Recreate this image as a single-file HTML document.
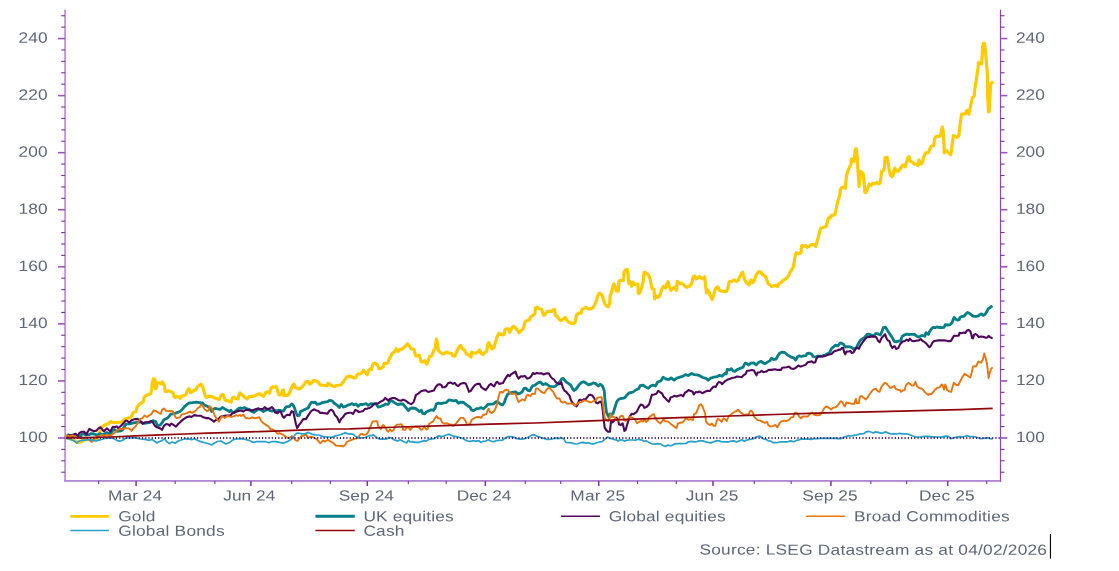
<!DOCTYPE html>
<html lang="en">
<head>
<meta charset="utf-8">
<title>Asset class performance</title>
<style>
html,body{margin:0;padding:0;background:#fff;}
body{width:1119px;height:571px;overflow:hidden;}
svg{display:block;}
text{font-family:"Liberation Sans",sans-serif;font-size:14.6px;fill:#5e6778;}
text.n{font-size:15px;}
</style>
</head>
<body>
<svg width="1119" height="571" viewBox="0 0 1119 571">
<rect width="1119" height="571" fill="#fff"/>
<g fill="none" stroke-linejoin="round" stroke-linecap="butt">
<polyline stroke="#ffcb00" stroke-width="3.2" points="65.2,437.9 66.0,438.0 70.0,438.6 73.0,439.6 75.5,441.3 77.5,442.3 80.0,442.2 82.5,441.2 84.5,439.8 88.0,439.2 92.0,439.0 96.0,438.6 98.0,437.7 99.3,432.7 100.2,430.9 101.1,427.3 104.7,425.1 108.3,423.8 110.9,421.5 112.7,422.4 117.2,422.4 121.7,422.0 124.3,419.3 127.0,418.4 130.6,417.5 133.3,412.6 136.0,411.7 137.0,407.4 138.8,404.7 141.4,402.9 143.2,402.0 144.1,397.5 145.9,395.7 148.6,394.4 150.8,393.5 151.7,389.5 152.4,382.3 153.5,378.8 154.9,379.2 155.3,385.9 155.7,389.0 156.6,386.8 157.4,382.8 159.3,382.8 161.1,383.7 162.4,381.9 163.8,384.1 164.7,387.7 165.1,391.3 166.5,391.5 168.3,390.8 171.4,391.7 173.2,393.5 174.1,396.6 175.4,397.5 176.7,396.2 179.0,397.1 180.3,398.4 181.2,396.2 183.4,395.9 185.7,394.9 187.0,391.7 188.8,388.6 190.2,390.8 190.6,392.6 192.8,391.3 194.2,389.9 196.0,389.9 197.3,386.8 199.1,385.5 201.1,384.1 202.7,386.8 204.0,391.3 205.3,395.7 206.7,397.4 208.9,396.2 211.2,396.6 213.8,397.5 216.1,398.6 218.3,399.3 219.5,399.4 220.8,395.4 223.0,394.5 224.4,398.1 225.7,400.7 228.0,400.6 229.7,401.6 231.1,402.1 232.4,398.1 233.8,397.2 236.0,398.5 238.2,398.8 239.1,394.5 240.0,392.9 241.8,394.5 244.5,397.2 247.2,399.0 249.4,396.5 251.6,396.3 254.3,396.1 256.6,394.9 259.2,393.6 261.5,394.9 263.7,396.3 265.5,392.7 267.3,391.8 269.5,393.2 270.9,388.2 272.6,386.9 274.4,387.3 276.2,386.4 277.6,390.5 278.9,394.9 281.1,394.9 282.5,390.5 283.4,390.0 284.3,395.8 286.0,395.4 288.7,394.9 291.0,389.1 292.7,385.1 294.1,384.2 295.4,387.8 297.7,388.4 299.5,389.1 302.1,386.9 304.4,384.2 306.2,381.5 308.4,381.5 309.7,384.2 312.0,382.4 313.3,380.6 316.3,381.0 318.5,382.4 319.8,384.6 321.6,385.2 324.3,385.5 327.0,385.9 327.9,383.3 329.2,383.7 331.4,385.5 334.1,386.4 336.8,385.5 339.5,385.0 341.3,384.6 343.5,381.5 345.3,378.8 347.1,376.8 349.3,376.1 351.6,376.8 353.8,377.9 355.6,377.9 357.4,374.3 359.6,373.9 361.4,373.0 363.6,370.3 365.4,372.5 367.2,374.8 368.5,370.7 369.9,369.0 371.7,369.4 372.6,364.5 374.3,363.2 376.1,363.6 377.9,365.8 378.8,368.8 381.0,368.5 383.3,366.7 384.2,363.4 386.0,363.4 388.2,362.7 389.1,359.1 390.9,356.0 392.2,353.3 394.5,352.0 396.2,348.6 398.0,351.5 399.8,349.7 402.5,348.9 404.7,346.6 407.5,343.8 409.5,346.3 411.3,348.8 413.9,349.4 415.7,355.9 417.5,355.7 419.3,355.2 421.1,361.9 422.9,361.9 424.7,360.6 426.9,364.2 427.8,361.5 429.6,356.6 431.8,355.7 433.6,350.7 434.9,349.4 435.8,343.6 436.5,339.1 437.6,344.5 438.5,350.7 440.7,352.5 442.5,353.9 444.3,353.6 446.6,352.1 448.8,353.0 451.5,353.4 452.8,355.9 455.0,356.1 456.4,352.5 458.2,348.5 460.4,345.4 462.2,348.5 464.4,349.9 466.7,354.3 468.9,354.8 471.0,357.0 471.8,352.1 473.8,353.0 476.5,353.0 478.3,351.6 479.6,350.0 481.0,353.4 483.2,354.5 485.0,352.1 486.8,351.2 487.7,344.5 488.6,342.7 490.3,344.9 491.7,348.8 493.9,347.6 495.3,342.7 497.0,337.2 498.8,333.3 500.0,333.7 502.7,335.0 504.0,334.6 504.9,329.7 506.7,328.8 508.5,328.8 509.8,332.4 511.2,329.2 513.0,326.3 515.2,327.4 517.0,329.7 518.8,332.8 520.6,331.0 522.8,329.2 524.1,325.7 525.0,322.1 526.8,320.7 529.5,319.9 530.4,317.0 532.6,315.8 534.9,314.0 535.6,307.8 537.1,307.2 539.3,308.7 541.6,309.3 542.9,313.6 543.8,315.4 545.6,313.8 546.9,311.8 549.2,311.1 551.8,311.4 553.2,310.0 554.5,309.3 555.4,315.4 557.2,316.3 559.0,319.0 560.8,320.7 563.0,319.4 565.2,317.4 566.6,319.9 568.8,322.1 571.5,323.4 573.7,323.6 575.1,322.1 576.4,315.4 578.2,313.4 580.9,313.2 582.2,309.1 584.5,308.1 585.8,307.2 588.0,308.7 590.3,309.1 592.9,307.8 594.7,304.7 596.5,300.2 597.9,295.3 599.2,293.5 599.9,293.2 602.1,295.2 603.5,299.7 604.8,303.7 606.6,306.0 608.4,306.8 609.7,303.3 610.2,295.2 611.5,292.5 612.9,286.7 613.8,283.8 615.1,286.3 616.0,290.7 618.2,291.2 618.7,285.4 619.1,280.9 621.4,280.5 623.6,280.5 624.0,272.0 625.8,269.7 627.2,269.3 628.1,275.6 628.8,283.6 630.3,281.8 631.6,286.3 633.0,282.3 634.3,284.5 636.1,284.0 637.9,284.0 638.3,293.4 639.7,293.0 641.5,288.1 643.3,280.9 644.0,272.4 645.9,272.9 648.2,274.7 650.0,278.2 651.3,285.4 652.2,288.5 654.0,289.4 654.7,298.8 656.7,296.1 658.4,297.4 660.2,294.3 662.0,289.0 663.4,286.3 665.6,288.1 666.9,283.6 668.1,281.8 669.2,286.3 671.0,290.3 672.7,288.5 674.5,287.2 676.5,290.3 677.2,281.4 679.5,283.6 682.1,283.2 684.4,285.8 687.0,287.4 689.7,285.8 691.8,283.5 693.1,276.8 694.5,275.9 695.8,279.0 698.0,277.7 699.4,276.4 701.2,278.2 703.0,278.6 704.7,276.8 705.6,285.7 706.5,292.9 707.9,290.2 709.2,292.4 710.6,296.5 712.2,299.6 713.7,294.7 715.0,289.8 716.8,287.1 718.2,287.1 719.0,290.2 720.8,290.7 723.1,291.6 726.6,291.3 728.0,287.5 729.3,281.7 731.6,281.3 734.2,279.9 736.5,281.5 738.3,279.9 740.0,276.4 741.8,272.8 742.7,272.3 743.6,275.9 745.0,280.4 746.7,283.1 749.0,284.9 750.3,281.3 751.2,279.9 752.6,282.6 754.3,280.8 755.7,275.9 757.0,273.7 759.3,271.4 760.6,271.9 762.8,275.0 765.5,276.4 766.9,279.9 768.2,283.8 770.0,284.9 771.8,286.6 774.0,285.7 775.8,285.3 777.6,286.6 778.9,283.5 781.2,282.6 782.9,280.4 785.6,279.0 787.9,276.8 788.9,275.0 790.3,271.5 793.0,267.9 794.3,261.6 795.4,254.5 796.3,252.7 798.3,253.8 801.0,252.7 801.4,246.4 802.3,245.4 804.1,246.3 805.9,245.6 807.3,247.3 809.0,246.4 811.3,244.7 814.0,244.7 815.7,246.4 817.1,241.1 818.9,234.8 820.2,229.5 820.9,228.1 822.9,227.7 825.1,226.8 826.1,226.5 827.4,222.0 828.3,218.0 830.1,218.0 831.4,215.3 833.2,215.3 835.0,214.4 835.9,210.4 837.3,203.2 838.6,198.8 839.9,195.2 840.4,189.4 842.1,187.4 843.9,187.2 845.4,188.3 845.9,182.0 846.5,175.7 847.9,170.8 849.7,166.8 851.0,164.1 851.4,159.2 853.2,159.2 854.1,161.4 854.6,154.3 855.5,148.9 856.4,148.9 857.3,157.9 857.7,166.8 858.4,175.7 859.0,186.5 859.9,179.3 860.4,171.3 862.2,172.6 863.2,174.0 864.0,182.0 864.9,192.3 865.9,192.7 868.0,187.4 869.3,184.2 871.1,185.6 872.9,183.3 874.7,183.8 876.5,182.4 878.7,183.8 880.0,183.3 880.9,177.5 881.7,171.3 883.6,170.4 884.5,166.8 885.0,157.9 887.2,157.4 888.1,162.3 889.0,168.6 890.3,174.9 891.7,176.6 893.0,175.7 893.9,170.4 894.8,168.2 896.1,170.8 898.4,171.3 900.2,168.6 901.9,165.9 903.3,165.0 905.1,166.8 906.4,162.3 907.7,158.3 909.1,156.5 910.0,161.0 912.2,161.9 914.0,164.1 916.2,164.1 918.0,165.5 918.9,160.1 920.7,164.1 922.5,162.3 923.4,157.9 925.7,152.9 928.4,152.7 929.7,149.3 931.1,146.2 933.8,145.7 934.5,138.6 936.4,136.4 938.7,136.4 940.5,135.9 941.4,130.6 942.3,127.0 943.2,131.4 943.8,141.3 944.3,152.9 945.8,150.2 948.1,152.4 950.7,154.7 951.6,149.3 952.4,142.2 953.6,135.5 955.2,136.4 957.0,137.3 958.8,135.9 959.7,127.9 960.6,120.7 961.5,114.5 962.0,113.8 963.8,114.2 965.6,113.8 966.5,110.7 968.3,110.7 969.0,114.2 970.0,108.4 971.4,102.2 972.3,97.7 974.1,96.4 975.0,87.9 976.3,79.8 977.2,73.8 978.1,67.5 978.5,62.6 979.9,63.5 981.7,63.9 982.1,56.8 982.6,47.8 983.3,43.4 984.3,43.4 985.1,47.8 986.0,56.8 986.6,65.7 987.5,74.6 987.7,96.8 988.2,105.7 988.6,112.0 989.3,111.1 989.7,101.3 990.2,92.3 990.6,83.4 992.4,82.5 993.1,81.6"/>
<polyline stroke="#037f87" stroke-width="2.8" points="65.4,437.6 68.0,434.9 70.7,435.8 74.3,436.3 77.9,437.4 80.6,436.3 81.9,434.0 84.1,434.0 85.9,434.9 89.5,434.5 91.3,433.6 94.0,434.0 96.6,434.9 98.4,434.5 100.2,433.6 102.0,434.9 104.7,434.0 106.5,432.7 109.2,433.6 110.9,433.2 112.7,430.5 114.5,429.6 117.2,431.4 120.8,430.9 122.6,430.0 124.3,426.4 126.1,424.2 129.7,423.8 133.3,422.9 136.9,422.4 140.4,422.0 144.0,423.3 147.6,422.9 150.3,422.4 152.9,420.6 155.6,421.5 157.4,425.1 158.1,425.8 160.4,424.9 162.1,422.7 163.9,419.6 166.2,418.7 168.4,417.3 170.6,414.2 172.9,413.8 176.4,412.9 180.0,411.5 182.7,408.9 184.5,406.6 187.2,404.4 189.0,403.0 192.5,402.6 196.1,402.1 199.7,402.6 202.4,403.0 205.0,405.3 207.7,406.6 210.4,408.4 211.7,411.5 213.1,409.7 214.9,408.4 217.6,408.9 220.2,409.3 222.5,407.5 224.7,408.9 227.4,410.2 229.2,411.5 231.0,410.2 231.9,412.0 234.1,412.4 236.3,410.6 238.6,408.4 240.8,408.0 242.6,408.4 244.4,407.5 247.0,408.9 249.7,409.7 251.8,411.5 254.0,412.4 256.3,410.6 258.5,408.9 260.7,409.7 263.4,411.5 265.6,410.2 267.9,408.9 270.1,410.6 272.3,411.1 274.6,410.2 276.8,411.1 278.6,410.2 280.8,410.6 283.5,411.1 285.3,408.0 286.6,406.6 289.3,406.6 291.6,403.9 293.3,405.3 294.7,408.4 296.0,412.9 297.4,415.6 299.2,415.6 300.5,411.5 302.7,410.6 305.4,409.3 308.1,408.0 309.9,404.4 311.7,402.1 313.9,402.6 315.2,402.1 317.0,404.4 319.7,403.9 322.4,402.6 325.1,402.1 327.7,401.7 329.5,400.4 332.2,400.8 334.0,403.0 336.7,404.8 339.4,407.5 341.2,404.4 343.4,407.1 345.0,406.7 347.2,405.4 349.9,404.5 352.1,403.6 353.9,404.9 356.2,404.0 358.0,406.3 360.2,404.5 362.9,404.5 366.0,403.6 368.2,405.4 370.9,403.6 373.6,404.0 375.8,403.6 378.1,407.1 380.7,406.3 383.4,405.4 385.7,404.0 387.9,404.5 389.7,401.8 391.0,400.4 393.3,401.8 395.9,403.6 397.7,404.5 400.4,404.0 403.1,404.0 404.9,406.3 406.7,408.5 408.4,410.7 410.2,408.5 412.9,408.0 415.6,408.5 417.4,409.8 419.2,411.6 421.4,410.3 422.7,413.4 424.5,413.9 426.3,412.1 429.0,410.7 431.2,409.8 433.5,410.3 435.3,407.6 436.2,404.0 438.4,403.1 441.5,403.6 442.7,403.2 446.3,402.5 448.9,399.9 451.2,400.3 453.9,400.9 456.1,400.3 458.3,403.2 461.0,402.1 463.7,402.5 465.9,404.3 468.2,406.3 469.9,407.0 471.7,410.1 473.5,410.6 476.6,408.6 479.3,408.3 481.1,407.7 483.3,408.8 485.6,407.0 487.8,404.3 490.9,404.1 493.6,403.9 496.3,401.6 498.5,402.5 500.8,404.3 502.6,404.8 504.3,402.5 505.7,398.5 507.5,394.5 509.7,392.9 512.4,392.3 515.5,391.8 517.7,393.8 520.0,393.4 522.2,391.8 524.0,388.4 525.8,388.1 528.0,390.5 529.8,390.9 531.6,387.3 532.9,385.7 534.7,385.4 536.3,384.2 538.1,382.9 540.4,382.0 543.0,384.7 545.7,383.6 548.0,385.1 550.2,386.4 552.9,386.6 555.1,386.4 557.8,384.2 560.0,381.5 561.8,378.9 563.2,378.4 564.9,380.6 566.7,382.4 569.0,383.8 570.7,385.1 572.5,388.7 573.9,390.5 576.1,389.1 577.9,386.4 579.7,384.2 581.5,382.4 583.7,381.8 586.4,383.3 588.6,384.8 590.9,384.2 593.1,382.9 595.8,383.6 598.4,386.0 600.2,384.2 602.5,386.0 604.3,390.9 604.7,397.2 605.6,405.2 606.5,412.4 607.8,415.0 609.2,417.7 610.1,413.9 611.9,414.6 613.2,413.3 615.0,407.0 616.8,401.6 618.6,399.4 620.8,398.5 623.5,398.2 625.3,397.2 627.0,394.9 629.3,392.7 630.0,392.9 633.1,392.0 635.8,390.0 638.5,388.7 640.3,385.6 643.0,385.1 645.6,386.9 648.3,388.4 650.6,386.0 652.8,385.1 655.5,386.0 657.7,382.0 660.8,380.9 663.1,377.3 665.7,378.9 668.4,379.7 671.1,378.0 674.2,380.2 676.9,378.0 680.0,377.1 683.2,376.2 685.4,374.7 688.1,375.5 691.7,373.5 694.3,374.7 697.0,374.8 699.7,375.7 702.8,377.5 706.0,378.4 708.2,380.2 710.9,378.0 714.0,377.1 717.1,376.6 719.4,375.3 722.0,376.2 724.3,373.9 725.0,373.5 726.3,374.0 727.2,369.5 729.5,369.9 731.3,368.6 733.0,370.8 734.8,371.3 737.5,369.5 740.2,368.4 742.9,367.3 745.1,363.2 746.9,363.7 748.7,365.0 750.9,363.1 753.6,362.8 756.3,364.8 758.5,362.3 761.2,361.4 763.4,363.1 765.2,363.7 767.9,361.9 770.1,360.6 771.5,358.3 773.7,359.5 775.9,359.2 778.2,355.2 780.0,353.0 782.2,352.1 784.4,352.3 786.7,354.3 789.3,356.1 792.0,357.4 793.8,357.9 795.6,360.1 797.8,356.5 799.2,355.9 801.4,356.5 803.6,355.9 805.9,355.6 807.2,353.4 809.5,353.2 811.7,354.3 813.0,356.5 815.3,357.0 817.9,356.1 820.0,356.1 822.7,355.9 825.4,354.8 828.0,353.4 829.8,352.5 831.2,349.0 833.0,347.2 835.2,345.2 837.9,345.8 839.7,343.6 841.0,342.9 843.2,344.0 845.5,347.0 847.7,346.7 850.4,347.0 852.6,348.1 854.0,349.4 856.6,347.2 858.4,343.6 860.2,340.5 862.4,338.9 864.7,337.3 866.9,334.5 869.2,334.2 871.4,335.1 873.6,336.0 875.9,333.3 878.1,333.9 880.3,335.1 882.1,331.1 883.4,327.5 885.2,327.1 886.6,328.9 888.4,332.0 890.6,335.1 892.4,337.8 894.2,341.4 896.0,341.8 898.6,341.1 900.4,340.9 902.2,336.4 904.0,335.1 906.7,334.2 909.4,334.5 910.0,334.4 912.2,334.4 914.5,334.4 916.7,336.2 918.9,337.1 921.2,335.7 923.4,335.6 924.7,336.2 926.1,332.6 928.3,334.4 929.7,331.3 931.4,329.0 933.2,327.3 935.5,327.7 936.8,326.8 939.0,327.5 941.7,327.7 944.0,327.3 945.3,324.6 947.5,325.0 950.2,324.6 952.0,322.8 953.3,319.2 954.2,317.4 955.6,319.2 957.4,320.1 959.2,319.7 960.0,317.4 961.8,316.5 964.1,316.1 965.9,313.9 967.6,312.5 969.4,313.2 971.7,315.2 973.4,316.3 976.1,316.3 978.4,315.9 980.2,314.3 981.5,313.9 983.3,315.4 985.1,314.3 986.9,311.6 988.2,308.9 990.0,307.6 991.3,306.7 992.4,305.8"/>
<polyline stroke="#50075b" stroke-width="2.1" points="65.4,437.9 68.0,435.8 70.7,435.4 73.4,434.5 75.6,433.8 77.9,436.3 79.2,433.2 81.4,431.8 84.1,431.8 86.4,434.5 87.7,431.8 89.5,428.9 91.3,430.0 93.5,431.2 96.6,430.6 98.4,428.4 100.2,427.3 102.0,429.1 103.8,431.4 105.6,429.6 106.9,428.4 108.7,430.0 110.5,431.4 112.7,426.9 114.5,427.2 116.7,426.4 118.1,428.2 120.8,426.0 123.4,423.3 125.7,420.6 127.5,421.1 129.3,422.4 131.5,420.2 134.2,419.3 137.3,418.9 139.1,419.7 141.3,422.0 142.7,423.8 144.9,422.4 148.5,422.0 151.2,421.1 152.9,422.4 154.7,425.6 157.0,427.3 160.4,428.5 162.1,429.9 163.9,425.8 166.2,424.0 168.4,424.5 169.7,425.8 171.1,423.6 172.9,424.5 176.0,426.7 178.2,424.0 180.9,421.4 183.6,419.1 186.3,417.3 189.0,416.4 191.6,416.9 194.3,415.1 197.0,415.6 200.6,415.7 203.3,417.3 205.9,418.1 208.6,418.1 211.3,419.6 214.0,421.6 215.8,420.0 218.4,419.1 220.2,416.9 222.9,416.0 226.5,415.6 230.1,415.6 232.7,413.3 235.4,412.0 238.6,411.1 240.8,410.6 243.5,411.5 246.2,409.7 248.8,410.2 250.0,410.4 252.7,410.2 255.4,409.3 258.0,408.4 260.7,409.3 263.0,408.9 264.7,407.1 267.0,409.1 269.2,408.9 271.9,407.1 273.2,408.4 275.0,412.4 277.7,413.3 278.6,411.5 280.8,411.8 282.6,416.4 284.0,417.8 285.7,415.6 287.5,414.7 289.8,415.1 291.6,411.1 293.3,412.0 294.7,418.2 296.0,424.5 297.2,428.1 298.7,425.4 300.9,422.7 303.2,419.1 305.9,419.1 308.1,415.6 310.8,411.5 312.6,410.2 314.3,409.3 316.6,410.6 318.4,411.1 320.2,412.9 322.4,412.9 325.1,413.3 327.3,413.8 329.5,410.6 331.3,409.7 333.1,411.1 334.9,415.1 337.1,417.3 339.4,422.3 341.2,418.7 342.9,417.3 345.0,414.1 346.8,413.2 349.0,412.8 351.3,412.8 353.0,413.9 355.3,409.9 357.1,410.7 358.9,412.1 361.1,411.6 363.3,411.0 364.7,409.0 367.3,408.6 369.6,408.0 371.8,406.5 373.6,404.3 375.8,403.6 378.1,403.4 380.7,401.6 383.4,400.3 385.2,398.0 387.0,399.4 388.3,400.7 389.7,398.9 392.4,398.0 394.6,398.0 396.8,399.1 398.6,400.3 401.3,400.7 403.1,399.6 405.8,400.7 408.4,402.9 411.1,404.1 413.4,402.5 414.7,398.9 416.0,394.9 418.3,393.6 421.0,391.3 423.6,390.4 425.9,390.4 428.1,392.0 430.8,391.3 433.9,390.4 435.7,386.9 437.9,384.6 439.7,384.2 441.5,385.1 442.4,387.3 444.5,387.3 446.7,385.6 448.0,383.3 450.3,382.4 453.0,383.9 454.7,382.9 456.5,385.1 458.3,386.0 460.6,383.8 463.7,382.9 465.9,383.8 467.7,388.2 469.0,391.8 470.8,390.9 473.1,387.3 474.9,385.1 477.1,383.9 479.8,383.8 481.1,386.9 483.3,388.7 485.6,390.0 487.4,387.8 489.2,385.1 490.9,383.9 492.7,385.4 494.1,386.4 495.9,382.9 497.2,381.8 499.4,383.9 501.7,383.3 503.0,382.9 505.2,378.9 507.9,374.8 509.7,376.2 511.0,374.4 513.3,373.0 515.5,371.7 516.9,375.7 518.6,378.6 520.9,376.2 522.7,376.6 524.9,375.9 527.1,378.6 529.4,378.0 531.2,376.2 532.9,373.0 534.3,373.9 535.0,373.9 536.8,372.9 539.5,373.5 541.3,373.2 543.5,374.4 546.6,373.2 548.9,373.5 550.6,376.6 552.4,378.6 554.2,379.7 555.6,382.0 557.8,383.3 560.0,384.2 561.4,382.4 562.7,387.3 564.5,390.9 566.3,391.8 567.6,393.6 569.4,395.4 570.7,399.4 572.1,402.5 574.3,404.8 576.6,406.3 577.9,404.3 578.8,400.7 580.1,399.7 581.9,400.7 583.7,399.4 585.9,399.0 587.7,396.7 589.1,394.9 590.9,394.9 592.6,395.8 594.4,398.5 595.8,402.5 597.6,403.4 599.3,402.1 601.1,401.6 602.0,404.3 602.9,411.5 603.8,420.6 604.7,427.7 606.5,430.4 608.3,431.8 609.9,431.8 610.5,425.9 611.0,421.5 612.7,422.4 614.5,420.1 616.3,417.5 618.1,420.6 619.0,424.2 620.8,425.1 622.6,423.3 623.5,426.8 624.4,430.9 625.7,430.0 627.0,425.1 628.4,420.6 629.7,416.6 631.8,413.7 633.6,414.2 636.7,411.9 638.9,407.4 640.7,404.5 643.0,405.2 644.3,407.9 646.5,407.0 649.2,404.3 650.6,399.0 651.9,394.9 654.1,394.5 656.4,393.8 658.2,390.9 660.4,392.3 662.2,393.6 663.5,396.7 665.3,398.1 667.1,400.3 668.9,401.8 670.7,397.2 672.4,397.0 674.2,395.8 676.5,396.5 678.7,395.8 680.9,394.9 683.2,396.3 685.0,392.7 686.7,391.8 688.5,390.0 690.8,390.9 692.6,391.8 693.9,394.5 695.7,392.0 697.9,392.3 699.7,391.6 702.4,393.2 705.1,391.8 706.9,390.9 710.0,390.9 712.7,387.3 714.5,386.6 715.8,386.9 717.6,383.3 718.9,382.0 720.7,382.4 722.0,384.2 724.3,382.0 725.0,381.1 727.2,379.8 729.5,379.1 731.7,378.0 734.8,377.5 737.1,376.5 739.3,376.8 742.0,377.1 743.3,375.3 745.6,374.0 746.9,371.1 749.6,370.4 751.8,369.9 754.0,370.4 755.4,373.5 756.5,375.3 757.6,372.6 759.9,372.2 761.6,370.8 763.4,372.2 766.1,371.5 768.8,369.9 771.5,369.9 775.0,369.3 777.7,369.9 780.9,369.9 782.2,367.7 784.4,367.5 786.7,367.3 788.9,366.6 791.1,368.4 793.4,369.0 795.6,367.9 798.3,365.5 800.5,366.6 802.7,365.9 805.9,364.6 807.7,362.2 809.9,361.9 811.7,361.3 813.5,362.8 815.3,362.2 816.6,358.3 818.4,356.5 820.0,356.3 822.7,356.6 825.4,355.9 828.9,354.5 831.6,353.9 833.9,351.5 836.1,350.7 838.3,349.9 840.6,349.4 841.9,348.1 843.2,347.9 844.1,352.1 845.2,354.3 846.4,351.6 848.6,351.5 850.4,350.9 851.7,353.0 853.5,352.5 855.3,349.4 856.6,347.6 858.9,348.8 860.2,345.8 862.4,342.7 864.7,339.6 866.9,337.3 869.2,336.9 871.8,336.4 874.5,336.6 876.3,337.3 878.1,340.9 879.7,342.3 881.2,338.7 883.0,336.4 885.1,334.2 886.6,338.7 887.9,340.5 889.3,340.9 890.6,344.9 892.4,348.1 894.2,346.3 895.1,346.5 896.0,349.0 898.2,348.1 900.4,343.6 902.7,341.6 904.9,340.9 906.7,339.6 908.5,340.9 909.8,338.7 911.8,340.7 913.6,341.3 915.8,340.7 918.9,340.4 920.7,339.1 922.5,340.9 924.7,342.2 926.5,343.8 928.3,346.0 929.5,347.2 931.0,345.6 932.3,342.9 933.7,341.3 935.9,340.7 938.6,340.4 942.2,340.4 945.3,340.4 947.5,341.1 950.7,341.1 952.4,338.4 953.8,335.9 956.5,335.7 958.7,335.6 959.6,332.9 961.4,333.2 963.6,332.6 965.4,332.9 966.7,330.8 968.5,329.9 970.3,331.3 971.2,334.0 972.1,338.0 973.0,338.4 973.9,334.9 975.7,334.0 977.5,335.3 978.8,337.1 981.0,336.6 983.3,336.8 986.0,337.7 987.3,337.4 988.6,335.9 990.0,337.1 991.8,338.0 992.7,338.2"/>
<polyline stroke="#eb740a" stroke-width="1.9" points="65.4,436.7 67.1,435.4 69.8,436.3 72.5,435.4 75.2,436.3 77.9,438.1 82.3,438.5 86.8,438.1 90.8,441.2 91.7,442.1 93.1,439.9 95.7,438.1 99.3,435.8 102.0,434.9 104.7,435.8 106.9,434.5 109.2,435.8 111.8,434.9 114.5,432.7 117.2,430.5 119.9,428.7 122.6,429.1 125.2,428.2 128.8,428.4 131.5,430.9 133.3,428.2 135.5,426.4 136.9,424.2 138.6,421.5 140.4,418.9 142.2,418.4 144.5,415.5 147.1,417.1 149.4,415.3 151.6,413.9 153.4,410.5 156.1,411.1 158.3,412.6 160.8,413.8 162.1,409.7 163.9,408.4 166.2,410.9 168.4,411.3 171.1,410.9 172.9,411.5 175.1,416.4 176.4,418.2 180.0,417.3 181.4,414.7 184.5,413.8 187.2,412.9 189.9,411.5 192.1,412.9 195.2,411.1 197.9,408.0 199.7,407.1 201.0,404.4 202.8,406.2 205.0,409.7 206.8,411.1 208.6,410.6 209.7,406.2 211.3,407.5 213.1,411.5 214.9,416.0 216.7,418.7 218.9,421.8 220.2,419.1 222.0,416.0 224.7,418.1 227.4,416.0 231.0,416.9 233.6,416.4 236.3,415.1 238.1,416.0 239.9,414.8 241.2,416.0 243.5,414.7 245.3,417.8 247.9,418.2 250.0,418.4 252.2,417.3 254.5,418.4 257.1,417.8 259.4,417.3 261.2,420.9 263.4,423.2 266.1,424.9 268.8,426.7 270.6,429.4 272.8,429.4 275.5,431.6 277.7,433.9 279.5,433.0 282.2,434.3 284.9,436.1 287.5,437.9 289.3,438.3 291.6,436.1 293.8,437.9 295.6,440.1 297.4,441.0 299.2,438.8 301.4,436.1 303.6,435.7 305.9,434.3 308.1,437.9 310.8,436.6 313.4,437.4 316.1,438.8 318.4,441.0 320.2,443.3 322.8,440.6 325.1,441.5 328.2,439.7 330.4,441.5 333.1,442.8 335.8,445.5 338.5,445.9 341.2,446.0 343.4,446.4 345.0,445.1 346.8,442.0 349.5,440.7 353.0,439.3 356.6,438.4 358.9,436.6 360.2,434.4 362.0,433.8 363.8,434.9 366.4,434.4 368.2,432.2 370.0,427.7 371.8,423.2 372.7,421.4 374.9,421.4 377.2,421.3 378.1,425.9 379.4,427.7 380.7,429.0 382.1,425.9 383.4,425.0 385.2,427.3 387.0,430.8 388.3,431.7 390.1,429.5 391.9,431.3 393.7,429.9 395.5,425.9 396.8,424.6 399.1,424.6 401.3,424.1 402.6,425.9 403.1,429.9 404.9,429.9 406.7,427.7 408.4,427.3 410.2,429.9 412.0,427.7 413.8,426.8 416.5,426.8 418.7,427.3 421.0,429.9 422.7,429.0 424.5,426.8 426.3,429.5 427.7,429.0 429.0,424.1 430.8,422.8 433.0,421.4 434.8,418.3 436.6,416.1 438.4,418.3 440.6,418.8 442.0,422.3 442.7,422.8 444.9,423.7 446.7,423.1 448.9,424.1 451.2,424.6 453.0,425.9 454.7,424.6 456.5,422.8 458.3,420.6 460.6,417.9 463.2,417.9 465.0,420.1 466.8,424.1 468.6,424.6 470.4,423.2 471.7,419.7 474.0,418.3 476.6,417.0 478.9,417.0 481.1,417.9 482.9,415.2 484.7,414.5 486.5,414.1 487.8,409.7 488.7,408.8 490.0,412.1 491.4,413.1 493.6,411.6 495.4,408.9 497.2,403.6 498.5,397.1 499.9,392.2 501.2,391.8 502.6,392.7 504.3,390.7 506.1,389.8 507.9,390.0 509.7,392.7 511.0,393.7 513.3,393.7 515.5,393.6 516.9,398.0 518.6,402.1 520.4,400.7 522.2,399.4 524.9,400.3 526.7,395.4 528.0,394.9 530.3,396.2 532.0,394.0 534.3,393.7 535.0,394.0 535.9,388.7 537.7,388.4 540.4,390.9 542.6,392.7 544.4,393.2 546.6,389.6 548.9,387.8 551.1,389.6 553.3,391.8 555.1,395.8 556.9,398.5 559.6,398.5 560.9,401.6 563.2,402.5 564.9,401.6 567.2,403.9 569.4,403.6 571.6,403.4 573.4,404.3 575.2,405.7 577.0,403.9 578.8,402.7 581.5,402.1 583.7,400.6 585.9,400.6 588.6,401.6 590.9,402.5 593.1,401.2 595.8,400.3 597.6,397.6 599.3,397.4 601.6,397.2 602.9,403.6 603.8,411.6 604.7,417.9 606.5,420.1 608.3,421.3 609.6,417.9 610.5,413.9 611.9,417.0 613.6,416.6 615.9,419.2 617.7,421.0 619.5,417.5 621.2,415.7 623.0,416.1 624.4,420.1 625.7,421.0 627.9,419.2 629.7,417.0 632.7,417.9 635.4,420.1 637.1,423.2 638.9,421.9 641.2,421.0 643.4,421.4 644.7,419.2 646.1,421.9 647.9,420.6 649.2,417.0 651.4,415.6 653.7,413.9 655.0,417.4 656.8,420.1 658.6,422.3 660.4,423.4 662.2,421.0 663.5,419.2 665.3,421.4 668.0,421.4 670.2,423.4 672.9,425.5 675.1,427.3 676.5,428.2 677.8,423.7 680.0,422.8 682.7,422.3 684.5,420.1 685.9,417.9 688.5,419.8 690.8,419.2 693.0,420.1 693.9,414.3 696.1,413.2 697.9,408.9 699.3,405.2 701.0,404.3 702.4,406.1 703.7,409.7 705.1,413.4 706.0,421.4 707.7,423.7 710.0,425.0 711.8,423.7 713.6,425.9 715.3,425.9 716.7,421.0 718.0,418.8 719.8,420.1 721.6,421.9 723.4,418.3 725.0,419.2 726.8,421.0 728.6,416.5 730.8,414.7 733.5,412.5 736.2,411.2 738.0,409.7 740.2,412.1 742.9,413.9 744.2,415.2 746.4,414.5 748.7,414.3 750.0,411.2 751.4,410.5 752.7,412.5 754.0,416.5 755.8,418.3 757.6,420.1 760.3,420.6 762.5,421.9 764.8,422.8 767.0,421.9 768.3,425.0 770.6,426.6 773.3,425.9 775.5,425.0 777.3,427.3 779.5,423.2 781.3,421.3 784.0,420.6 786.7,421.0 789.3,419.7 791.1,417.4 793.4,417.0 794.3,413.4 795.6,412.5 797.4,413.4 799.2,416.5 801.0,418.3 802.7,416.5 805.4,416.5 807.7,416.5 809.9,413.9 812.1,412.5 814.4,414.7 817.0,415.2 819.7,415.0 821.8,412.8 823.6,409.2 825.4,407.0 827.1,406.5 828.9,407.9 831.2,409.5 833.0,407.9 835.6,407.2 837.9,405.2 839.7,402.5 841.0,401.2 842.8,402.5 844.1,405.6 845.0,406.5 846.4,402.5 848.6,403.0 851.3,403.6 854.0,404.1 855.3,400.7 855.9,398.9 856.8,403.4 858.9,403.0 859.6,398.0 860.4,396.3 862.2,396.3 864.0,398.1 865.8,399.4 867.6,397.6 869.8,394.0 872.1,390.9 873.9,389.3 876.1,388.9 877.9,391.4 879.7,391.8 881.4,386.9 883.2,384.7 885.0,382.7 886.8,383.8 888.6,386.0 890.4,388.1 892.6,386.9 894.4,386.0 895.7,388.9 898.0,389.8 900.2,390.2 901.1,391.8 902.9,390.5 904.7,390.0 906.0,385.1 908.3,382.9 910.0,383.9 912.2,385.7 914.0,385.2 915.4,381.8 917.1,386.1 918.9,387.9 922.5,389.0 924.3,391.5 926.5,393.7 928.3,395.0 929.2,394.0 931.4,394.0 933.7,391.5 935.5,389.2 937.3,387.7 939.5,387.4 941.7,384.5 942.6,384.8 944.0,389.7 945.3,384.5 947.1,390.1 949.3,391.3 951.1,391.9 952.4,387.4 953.8,382.7 956.0,384.8 958.3,385.2 960.0,381.6 962.3,377.2 964.5,373.8 967.2,375.4 970.3,377.6 971.7,372.7 973.0,366.4 974.3,366.3 976.1,366.3 978.4,361.5 981.0,362.7 982.8,359.7 984.2,353.5 985.5,357.5 986.9,362.9 987.7,370.0 988.6,378.1 990.0,371.8 991.3,368.7 992.7,367.3"/>
<polyline stroke="#27a0cd" stroke-width="1.7" points="65.4,438.1 68.9,439.0 72.5,440.3 75.2,441.6 77.0,443.0 78.8,441.2 82.3,440.3 86.8,439.9 90.4,439.4 94.0,440.7 96.6,440.9 99.3,439.9 102.0,439.4 104.7,438.5 108.3,438.1 110.9,437.9 113.6,438.5 117.2,440.6 119.9,441.2 122.6,440.3 125.2,438.5 127.9,437.9 131.5,437.6 136.0,437.9 140.4,439.0 144.9,439.4 149.4,440.3 152.0,439.4 154.7,441.2 157.0,443.0 158.7,441.8 159.5,441.5 162.1,440.6 164.4,438.8 166.6,441.5 169.3,443.7 172.0,441.9 175.1,443.3 178.2,441.0 181.8,439.7 185.4,438.8 189.0,439.2 191.6,439.7 194.8,438.8 197.9,440.6 201.5,441.9 205.0,442.8 208.6,443.7 211.7,445.0 214.9,442.8 217.6,441.5 221.1,441.0 223.4,442.4 226.0,444.0 229.2,442.8 231.9,440.6 234.5,439.2 238.1,439.0 241.7,438.6 244.4,439.2 247.9,440.1 250.0,440.6 251.8,441.9 253.6,442.4 256.3,441.5 260.7,441.6 265.2,441.5 268.8,442.8 272.3,441.5 275.9,441.6 279.5,442.4 283.1,443.3 286.6,441.9 290.2,440.1 292.9,437.9 294.7,435.2 296.5,433.4 298.7,433.0 301.8,433.9 305.4,433.6 308.5,432.4 311.7,434.1 315.2,434.8 318.8,435.0 321.5,436.1 325.1,436.8 328.6,437.0 331.3,437.4 334.9,436.1 339.4,435.0 342.9,433.9 345.0,432.6 347.7,433.8 350.4,433.8 353.0,434.1 355.3,436.2 358.4,437.7 361.1,438.0 364.7,437.5 367.3,436.6 370.0,435.3 371.8,435.7 373.2,434.7 374.9,436.2 377.2,438.0 379.9,439.1 383.4,439.1 387.0,438.9 388.8,437.4 391.5,438.0 394.2,439.8 397.7,441.1 400.0,439.8 402.2,440.7 404.4,442.0 406.7,442.9 408.4,440.2 410.2,442.0 412.9,441.6 415.6,442.4 418.3,442.4 421.0,441.6 423.6,440.7 426.3,441.1 429.0,439.3 431.7,438.9 434.4,438.6 437.0,436.6 438.8,435.9 441.5,436.6 443.6,436.2 446.3,435.0 448.5,434.4 450.7,434.9 453.4,436.2 456.5,436.6 459.7,437.5 463.2,438.6 465.9,440.4 468.6,441.3 470.8,441.3 472.6,440.7 475.7,441.1 478.9,440.7 480.7,442.4 482.9,441.3 485.6,441.1 488.3,439.8 490.9,441.1 493.6,441.8 495.9,440.7 499.0,440.4 502.6,440.2 505.2,438.2 507.9,436.6 511.5,436.5 514.2,437.4 516.9,438.6 520.4,439.1 524.0,438.9 526.7,438.0 529.4,436.6 532.5,434.7 534.7,434.9 537.7,436.6 540.4,437.4 543.9,438.4 546.6,439.3 549.3,439.5 552.0,438.9 555.6,438.2 559.1,438.6 560.9,437.4 563.6,438.9 565.8,442.4 569.0,442.7 572.5,443.1 575.2,444.0 577.9,443.8 580.6,442.7 583.7,442.4 585.9,443.3 588.6,442.7 591.3,443.8 594.0,443.8 596.7,442.7 599.3,442.0 602.0,441.6 604.7,439.3 607.4,437.1 610.1,438.4 613.6,439.3 616.3,439.8 618.1,441.1 620.3,439.8 622.6,440.0 624.4,441.1 627.0,440.2 629.7,440.0 632.7,440.0 635.4,440.2 638.5,439.3 641.2,439.8 643.9,441.3 646.1,440.7 648.8,442.4 651.9,443.8 655.0,444.2 657.7,443.6 660.8,444.0 663.1,445.6 665.3,446.6 668.0,445.1 670.2,445.8 672.9,445.1 674.7,443.8 678.3,443.6 681.8,443.6 686.3,443.3 688.5,441.8 691.7,441.3 694.3,441.8 697.0,441.6 699.3,440.7 702.4,440.9 705.1,441.6 707.7,442.4 710.9,442.9 713.6,441.8 716.2,440.9 718.9,440.9 721.2,441.6 724.7,441.8 728.6,441.8 731.3,441.1 733.9,440.9 736.6,442.0 739.3,440.9 742.0,439.8 744.2,441.3 746.9,440.0 750.0,439.3 753.6,438.6 756.3,436.8 759.9,436.2 761.6,437.5 763.4,438.9 766.1,439.3 768.3,440.9 770.6,441.1 773.3,442.7 776.8,442.7 780.4,441.8 784.0,441.8 787.6,441.8 790.7,440.9 793.4,441.8 796.5,440.4 799.2,439.8 801.9,438.9 805.4,439.1 809.0,439.1 811.7,439.3 814.4,438.6 817.9,438.6 820.0,438.3 823.6,438.4 827.1,438.3 829.8,438.1 832.5,438.4 835.2,438.1 837.9,438.7 840.6,438.7 843.2,437.4 845.9,436.5 848.6,435.6 851.3,436.0 854.0,435.4 857.5,434.9 860.2,433.8 863.8,433.6 866.0,431.8 868.7,431.3 871.4,432.2 873.2,433.1 875.4,431.8 878.1,432.4 880.8,433.1 883.4,432.9 885.2,431.8 887.9,432.9 891.0,434.0 894.2,433.6 896.9,434.0 899.5,433.3 902.2,433.8 905.8,433.8 908.5,434.2 912.2,435.7 915.4,436.8 918.5,437.0 921.6,436.8 924.3,436.3 927.9,436.3 931.4,436.6 935.0,437.2 938.6,437.0 942.2,436.8 945.7,436.1 948.4,436.3 950.7,438.6 953.8,437.7 956.5,437.0 960.0,436.6 963.6,436.8 966.7,435.7 969.4,436.3 972.6,436.6 975.2,436.8 977.9,437.7 980.6,438.6 983.3,438.3 986.0,437.9 988.6,438.1 990.4,438.8 992.7,438.6"/>
<polyline stroke="#92050b" stroke-width="1.7" points="65.0,437.9 82.0,437.6 110.0,437.0 135.7,435.9 160.9,434.9 184.5,434.0 208.0,433.2 234.5,432.3 259.0,431.6 281.0,430.9 305.4,429.9 330.4,429.0 350.0,428.8 399.0,427.0 445.0,425.7 490.0,424.2 535.0,423.0 585.0,421.2 635.0,419.2 680.0,417.7 730.0,416.0 775.0,414.5 825.0,412.9 870.0,411.8 920.0,410.6 960.0,409.6 992.7,408.4"/>
</g>
<line x1="64.08" y1="438" x2="1000" y2="438" stroke="#43155a" stroke-width="2" stroke-dasharray="1.1 2.145" stroke-dashoffset="0"/>
<g>
<rect x="64.3" y="9.6" width="1.55" height="472.2" fill="#b184d1"/>
<rect x="64.2" y="480" width="936.9" height="1.8" fill="#b184d1"/>
<rect x="999.9" y="9.6" width="1.2" height="472.2" fill="#8f45b9"/>
</g>
<g stroke="#7d2eae" stroke-width="1.1">
<line x1="61.2" y1="472.21" x2="65" y2="472.21"/><line x1="1000.5" y1="472.21" x2="1004.5" y2="472.21"/>
<line x1="61.2" y1="460.79" x2="65" y2="460.79"/><line x1="1000.5" y1="460.79" x2="1004.5" y2="460.79"/>
<line x1="61.2" y1="449.38" x2="65" y2="449.38"/><line x1="1000.5" y1="449.38" x2="1004.5" y2="449.38"/>
<line x1="61.2" y1="426.56" x2="65" y2="426.56"/><line x1="1000.5" y1="426.56" x2="1004.5" y2="426.56"/>
<line x1="61.2" y1="415.15" x2="65" y2="415.15"/><line x1="1000.5" y1="415.15" x2="1004.5" y2="415.15"/>
<line x1="61.2" y1="403.73" x2="65" y2="403.73"/><line x1="1000.5" y1="403.73" x2="1004.5" y2="403.73"/>
<line x1="61.2" y1="392.32" x2="65" y2="392.32"/><line x1="1000.5" y1="392.32" x2="1004.5" y2="392.32"/>
<line x1="61.2" y1="369.50" x2="65" y2="369.50"/><line x1="1000.5" y1="369.50" x2="1004.5" y2="369.50"/>
<line x1="61.2" y1="358.09" x2="65" y2="358.09"/><line x1="1000.5" y1="358.09" x2="1004.5" y2="358.09"/>
<line x1="61.2" y1="346.67" x2="65" y2="346.67"/><line x1="1000.5" y1="346.67" x2="1004.5" y2="346.67"/>
<line x1="61.2" y1="335.26" x2="65" y2="335.26"/><line x1="1000.5" y1="335.26" x2="1004.5" y2="335.26"/>
<line x1="61.2" y1="312.44" x2="65" y2="312.44"/><line x1="1000.5" y1="312.44" x2="1004.5" y2="312.44"/>
<line x1="61.2" y1="301.03" x2="65" y2="301.03"/><line x1="1000.5" y1="301.03" x2="1004.5" y2="301.03"/>
<line x1="61.2" y1="289.61" x2="65" y2="289.61"/><line x1="1000.5" y1="289.61" x2="1004.5" y2="289.61"/>
<line x1="61.2" y1="278.20" x2="65" y2="278.20"/><line x1="1000.5" y1="278.20" x2="1004.5" y2="278.20"/>
<line x1="61.2" y1="255.38" x2="65" y2="255.38"/><line x1="1000.5" y1="255.38" x2="1004.5" y2="255.38"/>
<line x1="61.2" y1="243.97" x2="65" y2="243.97"/><line x1="1000.5" y1="243.97" x2="1004.5" y2="243.97"/>
<line x1="61.2" y1="232.55" x2="65" y2="232.55"/><line x1="1000.5" y1="232.55" x2="1004.5" y2="232.55"/>
<line x1="61.2" y1="221.14" x2="65" y2="221.14"/><line x1="1000.5" y1="221.14" x2="1004.5" y2="221.14"/>
<line x1="61.2" y1="198.32" x2="65" y2="198.32"/><line x1="1000.5" y1="198.32" x2="1004.5" y2="198.32"/>
<line x1="61.2" y1="186.91" x2="65" y2="186.91"/><line x1="1000.5" y1="186.91" x2="1004.5" y2="186.91"/>
<line x1="61.2" y1="175.49" x2="65" y2="175.49"/><line x1="1000.5" y1="175.49" x2="1004.5" y2="175.49"/>
<line x1="61.2" y1="164.08" x2="65" y2="164.08"/><line x1="1000.5" y1="164.08" x2="1004.5" y2="164.08"/>
<line x1="61.2" y1="141.26" x2="65" y2="141.26"/><line x1="1000.5" y1="141.26" x2="1004.5" y2="141.26"/>
<line x1="61.2" y1="129.85" x2="65" y2="129.85"/><line x1="1000.5" y1="129.85" x2="1004.5" y2="129.85"/>
<line x1="61.2" y1="118.43" x2="65" y2="118.43"/><line x1="1000.5" y1="118.43" x2="1004.5" y2="118.43"/>
<line x1="61.2" y1="107.02" x2="65" y2="107.02"/><line x1="1000.5" y1="107.02" x2="1004.5" y2="107.02"/>
<line x1="61.2" y1="84.20" x2="65" y2="84.20"/><line x1="1000.5" y1="84.20" x2="1004.5" y2="84.20"/>
<line x1="61.2" y1="72.79" x2="65" y2="72.79"/><line x1="1000.5" y1="72.79" x2="1004.5" y2="72.79"/>
<line x1="61.2" y1="61.37" x2="65" y2="61.37"/><line x1="1000.5" y1="61.37" x2="1004.5" y2="61.37"/>
<line x1="61.2" y1="49.96" x2="65" y2="49.96"/><line x1="1000.5" y1="49.96" x2="1004.5" y2="49.96"/>
<line x1="61.2" y1="27.14" x2="65" y2="27.14"/><line x1="1000.5" y1="27.14" x2="1004.5" y2="27.14"/>
<line x1="61.2" y1="15.73" x2="65" y2="15.73"/><line x1="1000.5" y1="15.73" x2="1004.5" y2="15.73"/>
<line x1="98.6" y1="481" x2="98.6" y2="484"/>
<line x1="175.2" y1="481" x2="175.2" y2="484"/>
<line x1="214.9" y1="481" x2="214.9" y2="484"/>
<line x1="291.7" y1="481" x2="291.7" y2="484"/>
<line x1="330.4" y1="481" x2="330.4" y2="484"/>
<line x1="408.3" y1="481" x2="408.3" y2="484"/>
<line x1="446.2" y1="481" x2="446.2" y2="484"/>
<line x1="525.3" y1="481" x2="525.3" y2="484"/>
<line x1="560.7" y1="481" x2="560.7" y2="484"/>
<line x1="637.5" y1="481" x2="637.5" y2="484"/>
<line x1="676.3" y1="481" x2="676.3" y2="484"/>
<line x1="754.3" y1="481" x2="754.3" y2="484"/>
<line x1="791.2" y1="481" x2="791.2" y2="484"/>
<line x1="870.8" y1="481" x2="870.8" y2="484"/>
<line x1="906.6" y1="481" x2="906.6" y2="484"/>
<line x1="986.7" y1="481" x2="986.7" y2="484"/>
</g>
<g stroke="#9a55c2" stroke-width="1.6">
<line x1="58" y1="437.97" x2="65" y2="437.97"/><line x1="1000.5" y1="437.97" x2="1007.4" y2="437.97"/>
<line x1="58" y1="380.91" x2="65" y2="380.91"/><line x1="1000.5" y1="380.91" x2="1007.4" y2="380.91"/>
<line x1="58" y1="323.85" x2="65" y2="323.85"/><line x1="1000.5" y1="323.85" x2="1007.4" y2="323.85"/>
<line x1="58" y1="266.79" x2="65" y2="266.79"/><line x1="1000.5" y1="266.79" x2="1007.4" y2="266.79"/>
<line x1="58" y1="209.73" x2="65" y2="209.73"/><line x1="1000.5" y1="209.73" x2="1007.4" y2="209.73"/>
<line x1="58" y1="152.67" x2="65" y2="152.67"/><line x1="1000.5" y1="152.67" x2="1007.4" y2="152.67"/>
<line x1="58" y1="95.61" x2="65" y2="95.61"/><line x1="1000.5" y1="95.61" x2="1007.4" y2="95.61"/>
<line x1="58" y1="38.55" x2="65" y2="38.55"/><line x1="1000.5" y1="38.55" x2="1007.4" y2="38.55"/>
</g>
<g stroke="#7d2eae" stroke-width="1.5">
<line x1="136.1" y1="481" x2="136.1" y2="486"/>
<line x1="250.9" y1="481" x2="250.9" y2="486"/>
<line x1="367.3" y1="481" x2="367.3" y2="486"/>
<line x1="485.3" y1="481" x2="485.3" y2="486"/>
<line x1="598.7" y1="481" x2="598.7" y2="486"/>
<line x1="713.0" y1="481" x2="713.0" y2="486"/>
<line x1="830.9" y1="481" x2="830.9" y2="486"/>
<line x1="947.7" y1="481" x2="947.7" y2="486"/>
</g>
<g>
<text class="n" transform="translate(18.60 442.11) rotate(0.05) scale(1.155 1)" textLength="25.11" lengthAdjust="spacing">100</text>
<text class="n" transform="translate(1015.90 442.11) rotate(0.05) scale(1.155 1)" textLength="25.02" lengthAdjust="spacing">100</text>
<text class="n" transform="translate(18.60 385.05) rotate(0.05) scale(1.155 1)" textLength="25.11" lengthAdjust="spacing">120</text>
<text class="n" transform="translate(1015.90 385.05) rotate(0.05) scale(1.155 1)" textLength="25.02" lengthAdjust="spacing">120</text>
<text class="n" transform="translate(18.60 327.99) rotate(0.05) scale(1.155 1)" textLength="25.11" lengthAdjust="spacing">140</text>
<text class="n" transform="translate(1015.90 327.99) rotate(0.05) scale(1.155 1)" textLength="25.02" lengthAdjust="spacing">140</text>
<text class="n" transform="translate(18.60 270.93) rotate(0.05) scale(1.155 1)" textLength="25.11" lengthAdjust="spacing">160</text>
<text class="n" transform="translate(1015.90 270.93) rotate(0.05) scale(1.155 1)" textLength="25.02" lengthAdjust="spacing">160</text>
<text class="n" transform="translate(18.60 213.87) rotate(0.05) scale(1.155 1)" textLength="25.11" lengthAdjust="spacing">180</text>
<text class="n" transform="translate(1015.90 213.87) rotate(0.05) scale(1.155 1)" textLength="25.02" lengthAdjust="spacing">180</text>
<text class="n" transform="translate(18.60 156.81) rotate(0.05) scale(1.155 1)" textLength="25.11" lengthAdjust="spacing">200</text>
<text class="n" transform="translate(1015.90 156.81) rotate(0.05) scale(1.155 1)" textLength="25.02" lengthAdjust="spacing">200</text>
<text class="n" transform="translate(18.60 99.75) rotate(0.05) scale(1.155 1)" textLength="25.11" lengthAdjust="spacing">220</text>
<text class="n" transform="translate(1015.90 99.75) rotate(0.05) scale(1.155 1)" textLength="25.02" lengthAdjust="spacing">220</text>
<text class="n" transform="translate(18.60 42.69) rotate(0.05) scale(1.155 1)" textLength="25.11" lengthAdjust="spacing">240</text>
<text class="n" transform="translate(1015.90 42.69) rotate(0.05) scale(1.155 1)" textLength="25.02" lengthAdjust="spacing">240</text>
<text transform="translate(108.00 500.48) rotate(0.05) scale(1.185 1)" textLength="45.74" lengthAdjust="spacing">Mar 24</text>
<text transform="translate(223.20 500.48) rotate(0.05) scale(1.185 1)" textLength="44.05" lengthAdjust="spacing">Jun 24</text>
<text transform="translate(338.70 500.48) rotate(0.05) scale(1.185 1)" textLength="46.67" lengthAdjust="spacing">Sep 24</text>
<text transform="translate(456.70 500.48) rotate(0.05) scale(1.185 1)" textLength="46.24" lengthAdjust="spacing">Dec 24</text>
<text transform="translate(570.30 500.48) rotate(0.05) scale(1.185 1)" textLength="46.24" lengthAdjust="spacing">Mar 25</text>
<text transform="translate(685.70 500.48) rotate(0.05) scale(1.185 1)" textLength="44.47" lengthAdjust="spacing">Jun 25</text>
<text transform="translate(802.30 500.48) rotate(0.05) scale(1.185 1)" textLength="46.67" lengthAdjust="spacing">Sep 25</text>
<text transform="translate(918.90 500.48) rotate(0.05) scale(1.185 1)" textLength="47.09" lengthAdjust="spacing">Dec 25</text>
</g>
<g>
<line x1="70.3" y1="516.40" x2="108.9" y2="516.40" stroke="#ffcb00" stroke-width="2.7"/><text transform="translate(118.20 521.18) rotate(0.05) scale(1.185 1)" textLength="31.39" lengthAdjust="spacing">Gold</text>
<line x1="315.4" y1="516.25" x2="354.8" y2="516.25" stroke="#037f87" stroke-width="2.9"/><text transform="translate(363.40 521.16) rotate(0.05) scale(1.185 1)" textLength="76.12" lengthAdjust="spacing">UK equities</text>
<line x1="561.1" y1="516.25" x2="599.9" y2="516.25" stroke="#50075b" stroke-width="1.7"/><text transform="translate(608.80 521.15) rotate(0.05) scale(1.185 1)" textLength="98.65" lengthAdjust="spacing">Global equities</text>
<line x1="806.2" y1="516.25" x2="844.9" y2="516.25" stroke="#eb740a" stroke-width="1.6"/><text transform="translate(853.90 521.13) rotate(0.05) scale(1.185 1)" textLength="131.48" lengthAdjust="spacing">Broad Commodities</text>
<line x1="70.3" y1="530.45" x2="108.9" y2="530.45" stroke="#27a0cd" stroke-width="1.6"/><text transform="translate(118.20 535.65) rotate(0.05) scale(1.185 1)" textLength="89.79" lengthAdjust="spacing">Global Bonds</text>
<line x1="315.4" y1="530.45" x2="354.8" y2="530.45" stroke="#92050b" stroke-width="1.5"/><text transform="translate(363.40 535.68) rotate(0.05) scale(1.185 1)" textLength="34.68" lengthAdjust="spacing">Cash</text>
</g>
<g>
<text transform="translate(699.50 554.55) rotate(0.05) scale(1.185 1)" textLength="293.25" lengthAdjust="spacing">Source: LSEG Datastream as at 04/02/2026</text>
</g>
<rect x="1049.9" y="533.9" width="1.1" height="24.8" fill="#000"/>
</svg>
</body>
</html>
